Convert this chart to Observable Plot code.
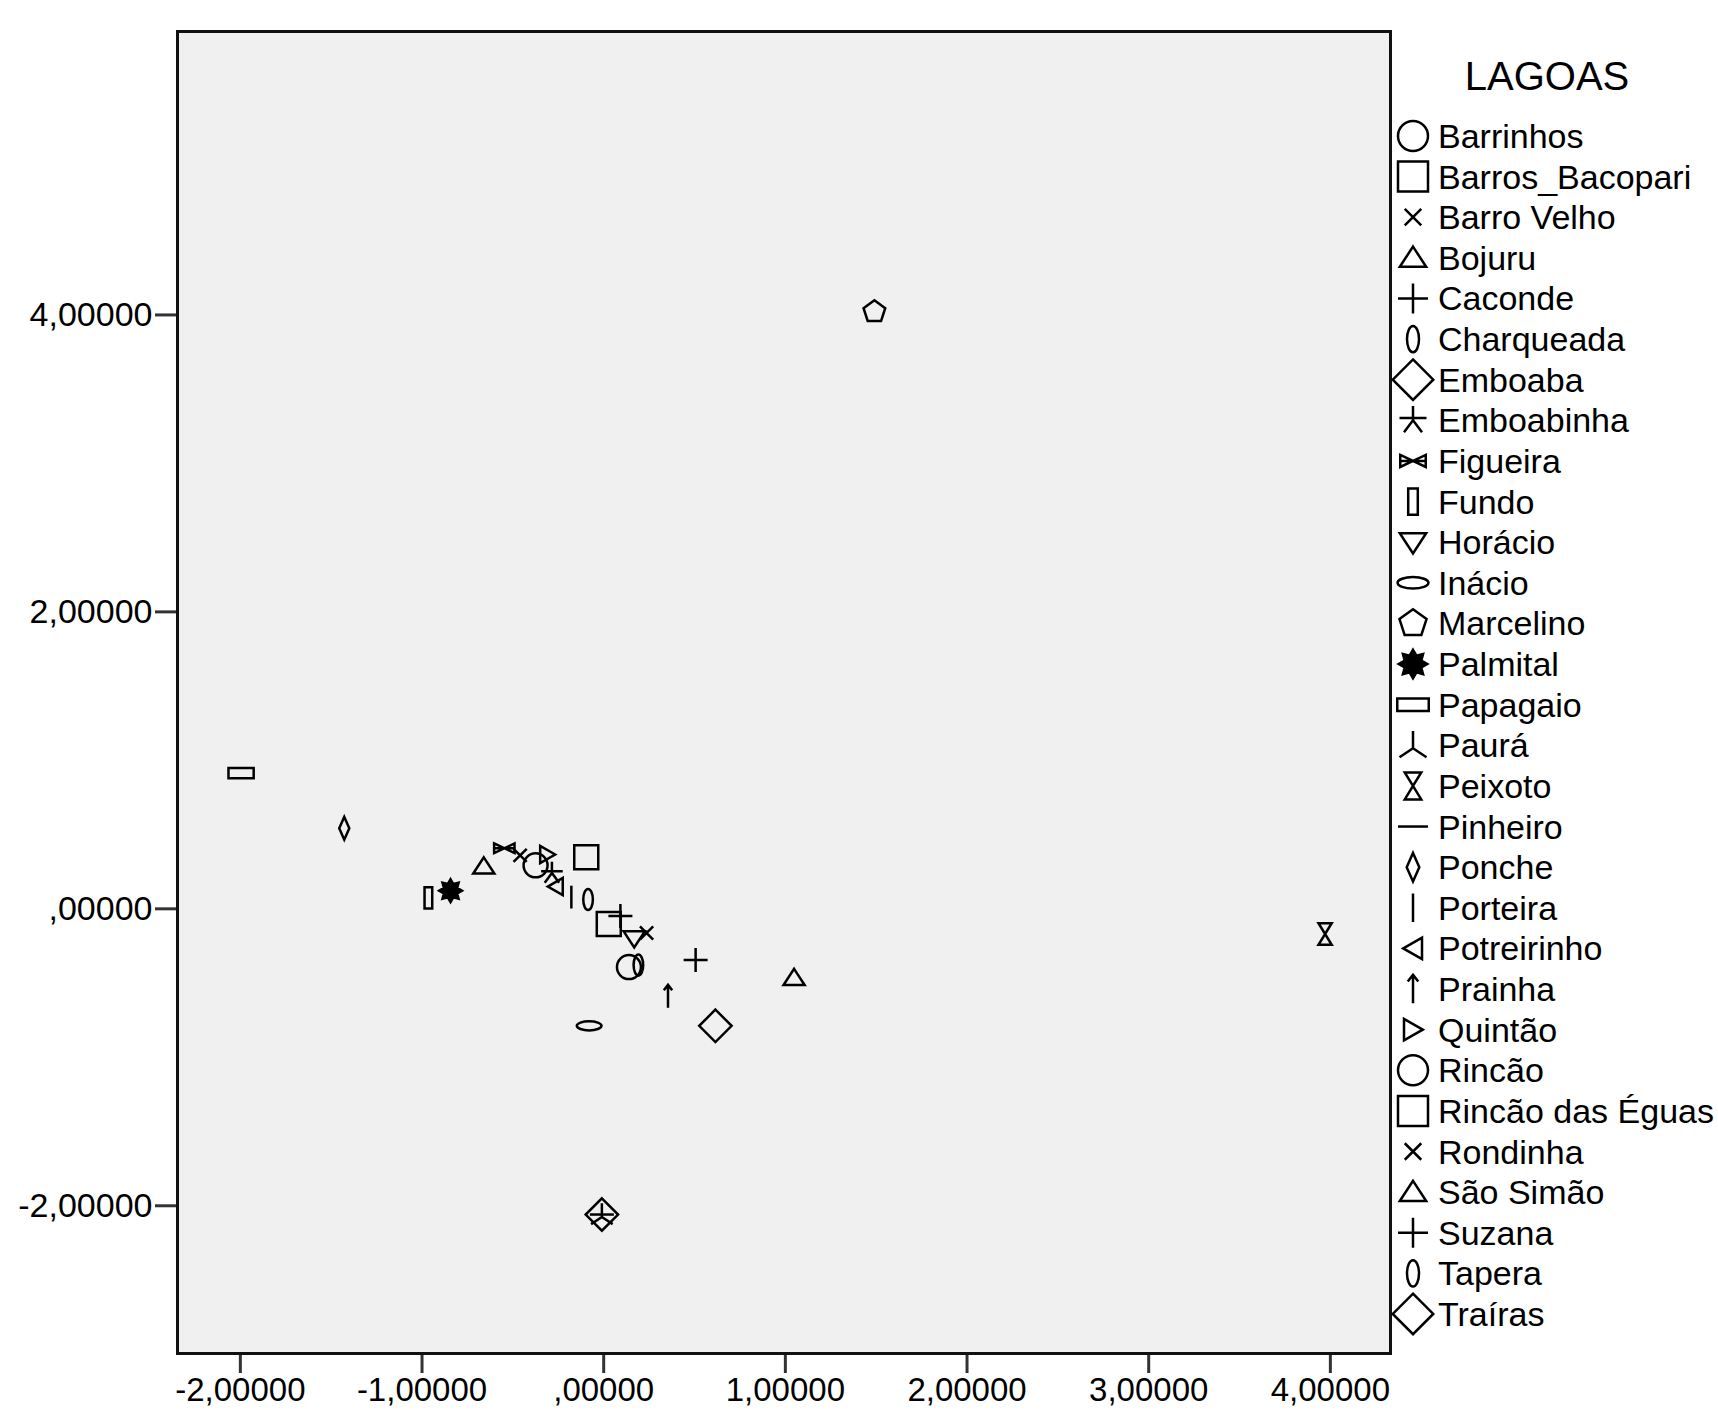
<!DOCTYPE html>
<html><head><meta charset="utf-8">
<script src="https://cdn.jsdelivr.net/npm/d3@7"></script>
<script src="https://cdn.jsdelivr.net/npm/@observablehq/plot@0.6"></script>
<style>
body{margin:0;background:#fff;}
#wrap{position:relative;width:1718px;height:1410px;overflow:hidden;}
#wrap svg.legend{position:absolute;left:0;top:0;}
</style></head><body><div id="wrap"></div>
<script>
const lagoas = ["Barrinhos","Barros_Bacopari","Barro Velho","Bojuru","Caconde","Charqueada","Emboaba","Emboabinha","Figueira","Fundo","Horácio","Inácio","Marcelino","Palmital","Papagaio","Paurá","Peixoto","Pinheiro","Ponche","Porteira","Potreirinho","Prainha","Quintão","Rincão","Rincão das Éguas","Rondinha","São Simão","Suzana","Tapera","Traíras"];
const xValues = [-0.375, 0.028, -0.460, -0.660, 0.092, -0.086, 0.615, -0.285, -0.547, -0.965, 0.168, -0.080, 1.490, -0.843, -1.996, -0.010, 3.971, -0.010, -1.428, -0.178, -0.265, 0.354, -0.310, 0.139, -0.096, 0.236, 1.048, 0.506, 0.191, -0.010];
const yValues = [0.293, -0.102, 0.360, 0.286, -0.048, 0.063, -0.788, 0.241, 0.408, 0.074, -0.200, -0.788, 4.022, 0.122, 0.914, -2.059, -0.170, -2.059, 0.542, 0.079, 0.150, -0.589, 0.366, -0.392, 0.347, -0.163, -0.465, -0.345, -0.379, -2.059];
const markerShapes = ["circle","square","xcross","triUp","plus","zero","diamond","asterisk","bowtie","rectV","triDown","ellH","pentagon","sun","rectH","paura","hourglass","hline","narrowDiamond","vline","triLeft","arrow","triRight","circle","square","xcross","triUp","plus","zero","diamond"];
const xTicks = [-2, -1, 0, 1, 2, 3, 4];
const yTicks = [-2, 0, 2, 4];
const legendTitle = "LAGOAS";

const fmt = d => d === 0 ? ",00000" : d.toFixed(5).replace(".", ",");

function ell(p, rx, ry){const k=0.5523;p.moveTo(rx,0);p.bezierCurveTo(rx,ry*k,rx*k,ry,0,ry);p.bezierCurveTo(-rx*k,ry,-rx,ry*k,-rx,0);p.bezierCurveTo(-rx,-ry*k,-rx*k,-ry,0,-ry);p.bezierCurveTo(rx*k,-ry,rx,-ry*k,rx,0);p.closePath();}
function poly(p, pts){p.moveTo(pts[0][0],pts[0][1]);for(const q of pts.slice(1))p.lineTo(q[0],q[1]);p.closePath();}
function seg(p, a, b){p.moveTo(a[0],a[1]);p.lineTo(b[0],b[1]);}
const shapeFns = {
  circle:(p,u)=>ell(p,u,u),
  square:(p,u)=>poly(p,[[-u,-u],[u,-u],[u,u],[-u,u]]),
  xcross:(p,u)=>{seg(p,[-.55*u,-.55*u],[.55*u,.55*u]);seg(p,[.55*u,-.55*u],[-.55*u,.55*u]);},
  triUp:(p,u)=>poly(p,[[0,-.75*u],[.88*u,.6*u],[-.88*u,.6*u]]),
  plus:(p,u)=>{seg(p,[-u,0],[u,0]);seg(p,[0,-u],[0,u]);},
  zero:(p,u)=>ell(p,.4*u,.88*u),
  diamond:(p,u)=>poly(p,[[0,-1.35*u],[1.35*u,0],[0,1.35*u],[-1.35*u,0]]),
  asterisk:(p,u)=>{seg(p,[0,-.95*u],[0,0]);seg(p,[-.9*u,-.15*u],[.9*u,-.15*u]);seg(p,[0,0],[-.6*u,.8*u]);seg(p,[0,0],[.6*u,.8*u]);},
  bowtie:(p,u)=>{poly(p,[[-.85*u,-.4*u],[.85*u,.4*u],[.85*u,-.4*u],[-.85*u,.4*u]]);seg(p,[-.85*u,0],[.85*u,0]);},
  rectV:(p,u)=>poly(p,[[-.32*u,-.88*u],[.32*u,-.88*u],[.32*u,.88*u],[-.32*u,.88*u]]),
  triDown:(p,u)=>poly(p,[[-.88*u,-.6*u],[.88*u,-.6*u],[0,.75*u]]),
  ellH:(p,u)=>ell(p,1.03*u,.38*u),
  pentagon:(p,u)=>poly(p,d3.range(5).map(k=>{const a=-Math.PI/2+k*2*Math.PI/5;return[.95*u*Math.cos(a),.95*u*Math.sin(a)];})),
  sun:(p,u)=>poly(p,d3.range(16).map(k=>{const a=-Math.PI/2+k*Math.PI/8;const r=k%2?.6*u:.95*u;return[r*Math.cos(a),r*Math.sin(a)];})),
  rectH:(p,u)=>poly(p,[[-1.05*u,-.42*u],[1.05*u,-.42*u],[1.05*u,.42*u],[-1.05*u,.42*u]]),
  paura:(p,u)=>{seg(p,[0,-.95*u],[0,.2*u]);seg(p,[0,.2*u],[-.9*u,.8*u]);seg(p,[0,.2*u],[.9*u,.8*u]);},
  hourglass:(p,u)=>{poly(p,[[-.55*u,-.9*u],[.55*u,-.9*u],[-.55*u,.9*u],[.55*u,.9*u]]);},
  hline:(p,u)=>seg(p,[-u,0],[u,0]),
  narrowDiamond:(p,u)=>poly(p,[[0,-.95*u],[.42*u,0],[0,.95*u],[-.42*u,0]]),
  vline:(p,u)=>seg(p,[0,-.95*u],[0,.95*u]),
  triLeft:(p,u)=>poly(p,[[-.65*u,0],[.6*u,-.72*u],[.6*u,.72*u]]),
  arrow:(p,u)=>{seg(p,[0,-.95*u],[0,.95*u]);p.moveTo(-.35*u,-.5*u);p.lineTo(0,-.95*u);p.lineTo(.35*u,-.5*u);},
  triRight:(p,u)=>poly(p,[[.65*u,0],[-.6*u,-.72*u],[-.6*u,.72*u]])
};
const symbolOf = name => ({draw(ctx, size){ shapeFns[name](ctx, Math.sqrt(size/Math.PI)); }});

const dots = lagoas.map((name, i) => Plot.dot([i], {
  x: j => xValues[j], y: j => yValues[j],
  symbol: symbolOf(markerShapes[i]), r: 12,
  stroke: "black", strokeWidth: 2.5,
  fill: markerShapes[i] === "sun" ? "black" : "none"
}));

const chart = Plot.plot({
  width: 1718, height: 1410,
  marginLeft: 177, marginRight: 328, marginTop: 31, marginBottom: 57,
  style: {fontFamily: "'Liberation Sans', Arial, sans-serif", fontSize: "33px", background: "white", color: "black", overflow: "visible"},
  x: {domain: [-2.346, 4.331]},
  y: {domain: [-2.995, 5.909]},
  marks: [
    Plot.frame({fill: "#f0f0f0"}),
    Plot.axisX({ticks: xTicks, tickFormat: fmt, tickSize: 20, tickPadding: 4, stroke: "#333", strokeWidth: 3, fill: "black", label: null, fontSize: 33}),
    Plot.axisY({ticks: yTicks, tickFormat: fmt, tickSize: 22, tickPadding: 3, stroke: "#333", strokeWidth: 3, fill: "black", label: null, fontSize: 34}),
    ...dots,
    Plot.frame({stroke: "#111", strokeWidth: 3})
  ]
});
const wrap = document.getElementById("wrap");
wrap.appendChild(chart);

// legend on the right
const leg = d3.select(wrap).append("svg").attr("class","legend").attr("width",1718).attr("height",1410)
  .style("font-family","'Liberation Sans', Arial, sans-serif");
leg.append("text").attr("x",1547).attr("y",90).attr("text-anchor","middle").attr("font-size",40).text(legendTitle);
lagoas.forEach((name, i) => {
  const yc = 136 + i * 40.62;
  const p = d3.path(); symbolOf(markerShapes[i]).draw(p, 15*15*Math.PI);
  leg.append("path").attr("d", p.toString()).attr("transform", `translate(1413,${yc})`)
    .attr("fill", markerShapes[i] === "sun" ? "black" : "none").attr("stroke","black").attr("stroke-width",2.5);
  leg.append("text").attr("x",1438).attr("y",yc+12).attr("font-size",34).text(name);
});
</script></body></html>
